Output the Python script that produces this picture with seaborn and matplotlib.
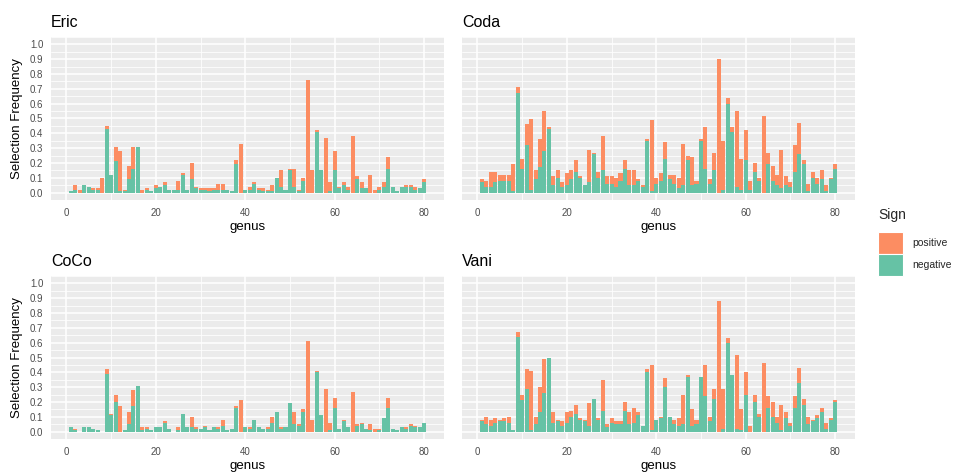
import matplotlib
matplotlib.use("Agg")
import matplotlib.pyplot as plt
import numpy as np
import pandas as pd
import seaborn as sns
from matplotlib.patches import Patch
from matplotlib.ticker import MultipleLocator, FormatStrFormatter

genus = list(range(1, 81))

eric_neg = [0.01, 0.02, 0.00, 0.05, 0.04, 0.02, 0.02, 0.00, 0.43, 0.12,
            0.21, 0.01, 0.01, 0.09, 0.16, 0.31, 0.00, 0.02, 0.01, 0.03,
            0.04, 0.05, 0.02, 0.02, 0.02, 0.12, 0.02, 0.09, 0.03, 0.02,
            0.02, 0.01, 0.02, 0.02, 0.02, 0.02, 0.01, 0.19, 0.00, 0.02,
            0.02, 0.06, 0.02, 0.01, 0.01, 0.01, 0.10, 0.04, 0.02, 0.15,
            0.04, 0.01, 0.08, 0.00, 0.00, 0.41, 0.15, 0.00, 0.01, 0.15,
            0.03, 0.05, 0.02, 0.00, 0.09, 0.03, 0.03, 0.00, 0.00, 0.02,
            0.04, 0.16, 0.04, 0.01, 0.04, 0.04, 0.04, 0.02, 0.03, 0.07]
eric_pos = [0.00, 0.03, 0.02, 0.00, 0.00, 0.01, 0.01, 0.10, 0.02, 0.00,
            0.10, 0.27, 0.01, 0.09, 0.15, 0.00, 0.02, 0.01, 0.00, 0.02,
            0.00, 0.02, 0.00, 0.00, 0.06, 0.01, 0.00, 0.11, 0.01, 0.01,
            0.01, 0.02, 0.01, 0.04, 0.04, 0.00, 0.00, 0.03, 0.33, 0.00,
            0.02, 0.01, 0.01, 0.02, 0.01, 0.04, 0.00, 0.11, 0.00, 0.01,
            0.12, 0.01, 0.02, 0.76, 0.15, 0.01, 0.00, 0.37, 0.06, 0.13,
            0.01, 0.02, 0.02, 0.38, 0.02, 0.04, 0.00, 0.12, 0.02, 0.02,
            0.03, 0.08, 0.00, 0.00, 0.00, 0.01, 0.01, 0.02, 0.00, 0.02]

coda_neg = [0.07, 0.04, 0.04, 0.07, 0.08, 0.08, 0.08, 0.01, 0.67, 0.16,
            0.32, 0.02, 0.09, 0.17, 0.28, 0.43, 0.05, 0.10, 0.04, 0.05,
            0.09, 0.14, 0.10, 0.05, 0.07, 0.26, 0.10, 0.15, 0.06, 0.06,
            0.04, 0.08, 0.16, 0.05, 0.05, 0.08, 0.04, 0.35, 0.01, 0.06,
            0.08, 0.23, 0.09, 0.06, 0.03, 0.05, 0.22, 0.05, 0.06, 0.35,
            0.16, 0.06, 0.15, 0.00, 0.02, 0.60, 0.41, 0.04, 0.02, 0.22,
            0.02, 0.14, 0.08, 0.00, 0.19, 0.08, 0.05, 0.03, 0.05, 0.04,
            0.14, 0.26, 0.19, 0.01, 0.10, 0.06, 0.09, 0.01, 0.09, 0.16]
coda_pos = [0.02, 0.04, 0.10, 0.07, 0.04, 0.04, 0.04, 0.18, 0.04, 0.07,
            0.14, 0.48, 0.06, 0.19, 0.27, 0.01, 0.06, 0.05, 0.03, 0.08,
            0.06, 0.08, 0.01, 0.00, 0.22, 0.01, 0.04, 0.23, 0.05, 0.05,
            0.06, 0.05, 0.06, 0.10, 0.10, 0.01, 0.01, 0.01, 0.48, 0.04,
            0.05, 0.11, 0.03, 0.06, 0.07, 0.28, 0.03, 0.19, 0.02, 0.01,
            0.28, 0.03, 0.12, 0.90, 0.33, 0.04, 0.03, 0.51, 0.21, 0.20,
            0.06, 0.06, 0.02, 0.52, 0.08, 0.10, 0.07, 0.26, 0.06, 0.03,
            0.18, 0.21, 0.03, 0.05, 0.04, 0.04, 0.06, 0.04, 0.01, 0.03]

coco_neg = [0.03, 0.01, 0.00, 0.03, 0.03, 0.02, 0.01, 0.00, 0.39, 0.11,
            0.20, 0.00, 0.01, 0.05, 0.17, 0.31, 0.01, 0.02, 0.01, 0.03,
            0.03, 0.06, 0.02, 0.00, 0.01, 0.12, 0.03, 0.03, 0.02, 0.02,
            0.03, 0.01, 0.03, 0.02, 0.04, 0.01, 0.02, 0.16, 0.00, 0.03,
            0.02, 0.08, 0.03, 0.02, 0.02, 0.06, 0.13, 0.02, 0.03, 0.19,
            0.05, 0.04, 0.13, 0.00, 0.00, 0.40, 0.11, 0.00, 0.01, 0.16,
            0.02, 0.07, 0.03, 0.00, 0.04, 0.05, 0.02, 0.01, 0.00, 0.01,
            0.09, 0.16, 0.02, 0.01, 0.03, 0.02, 0.04, 0.03, 0.03, 0.06]
coco_pos = [0.00, 0.01, 0.00, 0.00, 0.00, 0.00, 0.00, 0.00, 0.03, 0.01,
            0.05, 0.17, 0.00, 0.08, 0.11, 0.00, 0.02, 0.01, 0.00, 0.00,
            0.00, 0.01, 0.00, 0.00, 0.02, 0.00, 0.00, 0.07, 0.01, 0.00,
            0.01, 0.00, 0.00, 0.01, 0.04, 0.00, 0.00, 0.01, 0.21, 0.00,
            0.01, 0.00, 0.00, 0.00, 0.01, 0.04, 0.00, 0.01, 0.00, 0.00,
            0.08, 0.01, 0.02, 0.61, 0.08, 0.01, 0.00, 0.29, 0.05, 0.07,
            0.00, 0.01, 0.00, 0.27, 0.01, 0.01, 0.00, 0.04, 0.02, 0.01,
            0.00, 0.07, 0.00, 0.00, 0.00, 0.01, 0.01, 0.01, 0.00, 0.00]

vani_neg = [0.07, 0.05, 0.04, 0.06, 0.07, 0.07, 0.06, 0.01, 0.64, 0.21,
            0.29, 0.01, 0.05, 0.13, 0.26, 0.50, 0.06, 0.07, 0.04, 0.06,
            0.10, 0.12, 0.08, 0.07, 0.04, 0.22, 0.08, 0.14, 0.03, 0.06,
            0.05, 0.05, 0.14, 0.05, 0.06, 0.11, 0.04, 0.40, 0.01, 0.08,
            0.09, 0.30, 0.10, 0.05, 0.04, 0.05, 0.37, 0.04, 0.05, 0.37,
            0.24, 0.07, 0.22, 0.00, 0.02, 0.60, 0.38, 0.02, 0.01, 0.25,
            0.00, 0.20, 0.10, 0.00, 0.16, 0.10, 0.06, 0.01, 0.09, 0.04,
            0.16, 0.33, 0.18, 0.05, 0.07, 0.09, 0.13, 0.02, 0.08, 0.20]
vani_pos = [0.01, 0.05, 0.04, 0.03, 0.01, 0.02, 0.04, 0.00, 0.03, 0.04,
            0.13, 0.40, 0.05, 0.17, 0.23, 0.00, 0.07, 0.01, 0.03, 0.07,
            0.04, 0.06, 0.01, 0.01, 0.15, 0.00, 0.01, 0.21, 0.02, 0.03,
            0.02, 0.02, 0.06, 0.08, 0.10, 0.02, 0.00, 0.02, 0.44, 0.00,
            0.01, 0.06, 0.00, 0.03, 0.05, 0.20, 0.01, 0.11, 0.03, 0.00,
            0.21, 0.03, 0.07, 0.88, 0.27, 0.03, 0.00, 0.50, 0.14, 0.15,
            0.04, 0.05, 0.02, 0.46, 0.08, 0.10, 0.04, 0.17, 0.04, 0.02,
            0.08, 0.10, 0.04, 0.05, 0.01, 0.02, 0.03, 0.04, 0.01, 0.01]

signs = ["positive", "negative"]
palette = {"positive": "#FC8D62", "negative": "#66C2A5"}

sns.set_theme(style="darkgrid")
plt.rcParams['font.family'] = ['Liberation Sans', 'DejaVu Sans']
plt.rcParams['axes.facecolor'] = '#EBEBEB'

W, H = 956, 475
fig = plt.figure(figsize=(W / 100, H / 100), dpi=100)

def rect(left, top, right, bottom):
    return [left / W, 1 - bottom / H, (right - left) / W, (bottom - top) / H]

panels = [
    ("Eric", eric_neg, eric_pos, rect(51, 37, 444, 200), True),
    ("Coda", coda_neg, coda_pos, rect(462, 37, 855, 200), False),
    ("CoCo", coco_neg, coco_pos, rect(51, 276, 444, 439), True),
    ("Vani", vani_neg, vani_pos, rect(462, 276, 855, 439), False),
]

for name, neg, pos, r, left_col in panels:
    ax = fig.add_axes(r)
    df = pd.DataFrame({
        "genus": genus + genus,
        "freq": pos + neg,
        "Sign": ["positive"] * len(genus) + ["negative"] * len(genus),
    })
    sns.histplot(data=df, x="genus", weights="freq", hue="Sign",
                 hue_order=signs, multiple="stack", discrete=True,
                 shrink=0.9, palette=palette, alpha=1, linewidth=0,
                 legend=False, ax=ax)
    ax.set_xlim(-3.445, 84.445)
    ax.set_ylim(-0.05, 1.05)
    ax.xaxis.set_major_locator(MultipleLocator(20))
    ax.xaxis.set_minor_locator(MultipleLocator(10))
    ax.yaxis.set_major_locator(MultipleLocator(0.1))
    ax.yaxis.set_minor_locator(MultipleLocator(0.05))
    ax.yaxis.set_major_formatter(FormatStrFormatter('%.1f'))
    ax.grid(which='major', color='white', linewidth=1.1)
    ax.grid(which='minor', color='white', linewidth=0.55)
    ax.set_axisbelow(True)
    for s in ax.spines.values():
        s.set_visible(False)
    ax.tick_params(axis='both', which='major', length=2.5, width=0.8,
                   color='#333333', labelsize=7, labelcolor='#4D4D4D', pad=3)
    ax.tick_params(axis='both', which='minor', length=0)
    ax.set_xlabel("genus", fontsize=9.5, color='black', labelpad=2.5)
    if left_col:
        ax.set_ylabel("Selection Frequency", fontsize=9.5, color='black', labelpad=5)
    else:
        ax.set_ylabel("")
        ax.tick_params(axis='y', which='both', left=False, labelleft=False)
    ax.text(0, 1.045, name, transform=ax.transAxes, fontsize=11.5,
            ha='left', va='bottom', color='black')

handles = [Patch(facecolor=palette[s], edgecolor='white', linewidth=0.8, label=s)
           for s in signs]
leg = fig.legend(handles=handles, title="Sign", loc='upper left',
                 bbox_to_anchor=(874 / W, 1 - 204 / H), frameon=False,
                 fontsize=7.5, title_fontsize=10, handlelength=2.4,
                 handleheight=2.9, handletextpad=0.9, labelspacing=0.0,
                 borderaxespad=0.0)
leg._legend_box.align = "left"
leg._legend_box.sep = 7

fig.savefig("out.png", dpi=100)
